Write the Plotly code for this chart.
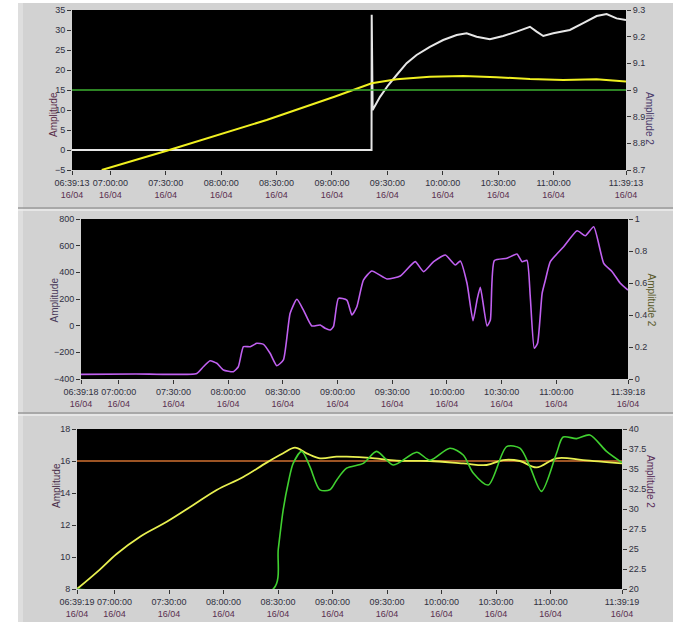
import pandas as pd
import plotly.graph_objects as go

# ---------------- data (minutes from panel start, value) ----------------
start1 = "2014-04-16 06:39:13"
start2 = "2014-04-16 06:39:18"
start3 = "2014-04-16 06:39:19"

# Panel 1
white_t = [0, 162.2, 162.3, 162.6, 162.8, 166.8, 171.3, 175.8, 181.2, 186.6, 193.8, 201.0, 208.3,
           213.7, 219.1, 226.3, 233.5, 240.8, 248.0, 251.6, 255.2, 260.6, 269.6, 276.8, 284.1,
           289.5, 294.9, 300]
white_v = [0, 0, 33.8, 21.5, 10.0, 13.3, 16.25, 18.75, 21.7, 23.75, 25.8, 27.5, 28.75,
           29.2, 28.3, 27.7, 28.5, 29.6, 30.8, 29.6, 28.5, 29.2, 30.0, 31.7, 33.5,
           34.0, 32.9, 32.5]
yel1_t = [16.1, 51.3, 105.4, 142.1, 162.3, 175.8, 193.8, 211.9, 229.9, 248.0, 266.0, 284.0, 300]
yel1_v = [-5, -0.2, 7.5, 13.3, 16.7, 17.7, 18.3, 18.5, 18.2, 17.75, 17.5, 17.7, 17.1]
lim1_t = [0, 300]
lim1_v = [9.0, 9.0]   # on Amplitude 2

# Panel 2
pur_t = [0, 30, 63.5, 67.1, 70.8, 74.5, 78.1, 83.6, 86.3, 89.1, 92.8, 96.4, 100.1, 103.7, 107.4,
         111.0, 114.7, 118.4, 122.0, 126.6, 131.2, 133.9, 136.7, 138.5, 141.2, 145.8, 148.6,
         151.3, 154.9, 159.5, 167.8, 175.1, 183.3, 187.9, 193.4, 199.8, 205.3, 208.0, 211.7,
         215.0, 217.2, 219.0, 222.7, 224.5, 226.7, 233.6, 239.1, 241.9, 244.6, 246.4, 248.6,
         250.4, 252.9, 254.7, 257.4, 264.7, 272.1, 276.6, 281.2, 286.7, 291.3, 295.8, 300]
pur_v = [-365, -362, -358, -308, -263, -282, -332, -345, -308, -158, -158, -132, -140, -207, -300,
         -257, 93, 198, 117, -2, 5, -20, -32, -5, 205, 192, 80,
         142, 342, 410, 350, 372, 480, 405, 480, 530, 455, 485, 318,
         37, 192, 288, -2, 42, 488, 505, 537, 480, 490, 217, -170,
         -132, 242, 342, 480, 592, 712, 675, 742, 467, 405, 318, 267]

# Panel 3
yel3_t = [0, 12.7, 21.8, 34.7, 49.4, 64.0, 76.9, 91.5, 104.4, 113.5, 120.0, 126.4, 133.7, 142.9,
          148.4, 161.3, 176.0, 194.3, 212.6, 225.5, 234.6, 243.8, 253.0, 264.0, 278.6, 300]
yel3_v = [8, 9.23, 10.19, 11.27, 12.2, 13.25, 14.19, 15.0, 15.9, 16.48, 16.83, 16.48, 16.17, 16.27,
          16.27, 16.2, 16.02, 16.0, 15.85, 15.75, 16.06, 16.0, 15.6, 16.17, 16.06, 15.85]
grn_t = [0, 108.0, 110.8, 113.5, 116.5, 119.0, 123.7, 128.2, 133.7, 139.2, 142.9, 148.4, 157.6,
         164.9, 174.1, 187.0, 194.3, 205.3, 212.6, 218.1, 226.4, 236.5, 243.8, 249.3, 255.7,
         264.0, 267.6, 275.0, 282.3, 291.5, 300]
grn_v = [20, 20, 25.0, 29.9, 33.5, 35.7, 37.2, 35.3, 32.4, 32.4, 33.6, 35.1, 35.7,
         37.2, 35.5, 37.1, 36.1, 37.6, 36.75, 34.5, 33.0, 37.8, 37.6, 35.3, 32.2,
         37.0, 39.0, 38.8, 39.25, 37.2, 35.8]   # on Amplitude 2
lim3_t = [0, 300]
lim3_v = [16, 16]

tick_clock = ["07:00:00", "07:30:00", "08:00:00", "08:30:00", "09:00:00",
              "09:30:00", "10:00:00", "10:30:00", "11:00:00"]
date_label = "16/04"


def tx(start, mins):
    return pd.Timestamp(start) + pd.to_timedelta(pd.Series(mins, dtype=float), unit="m")


def ticks(start):
    s = pd.Timestamp(start)
    e = s + pd.Timedelta(minutes=300)
    vals = [s] + [pd.Timestamp(s.strftime("%Y-%m-%d ") + c) for c in tick_clock] + [e]
    txt = [v.strftime("%H:%M:%S") + "<br><span style='color:#5a2f4f'>" + date_label + "</span>" for v in vals]
    return vals, txt, [s, e]


W, H = 673, 622
FONT = "Liberation Sans"
TICKC = "#2f3040"

fig = go.Figure()
fig.add_trace(go.Scatter(x=tx(start1, white_t), y=white_v, mode="lines",
                         line=dict(color="#e6e6e6", width=2), xaxis="x", yaxis="y"))
fig.add_trace(go.Scatter(x=tx(start1, yel1_t), y=yel1_v, mode="lines",
                         line=dict(color="#f0f020", width=2), xaxis="x", yaxis="y"))
fig.add_trace(go.Scatter(x=tx(start1, lim1_t), y=lim1_v, mode="lines",
                         line=dict(color="#3cb030", width=1.3), xaxis="x", yaxis="y2"))

fig.add_trace(go.Scatter(x=tx(start2, pur_t), y=pur_v, mode="lines", line_shape="spline",
                         line=dict(color="#c060f0", width=1.6, smoothing=0.5), xaxis="x2", yaxis="y3"))
fig.add_trace(go.Scatter(x=[None], y=[None], mode="lines", xaxis="x2", yaxis="y4"))

fig.add_trace(go.Scatter(x=tx(start3, lim3_t), y=lim3_v, mode="lines",
                         line=dict(color="#d07030", width=1.3), xaxis="x3", yaxis="y5"))
fig.add_trace(go.Scatter(x=tx(start3, grn_t), y=grn_v, mode="lines", line_shape="spline",
                         line=dict(color="#40d030", width=1.6, smoothing=0.8), xaxis="x3", yaxis="y6"))
fig.add_trace(go.Scatter(x=tx(start3, yel3_t), y=yel3_v, mode="lines", line_shape="spline",
                         line=dict(color="#e8f050", width=1.8), xaxis="x3", yaxis="y5"))


def px_x(a, b):
    return [a / W, b / W]


def px_y(top, bot):
    return [1 - bot / H, 1 - top / H]


ax_common = dict(showgrid=False, zeroline=False, ticks="outside", ticklen=4, tickwidth=1,
                 tickcolor="#333", tickfont=dict(family=FONT, size=9, color=TICKC),
                 showline=False, tickangle=0, automargin=False)

v1, t1, r1 = ticks(start1)
v2, t2, r2 = ticks(start2)
v3, t3, r3 = ticks(start3)

fig.update_layout(
    width=W, height=H, margin=dict(l=0, r=0, t=0, b=0, pad=0, autoexpand=False),
    paper_bgcolor="#d2d2d2", plot_bgcolor="black", showlegend=False,
    font=dict(family=FONT, size=9, color=TICKC),
    xaxis=dict(domain=px_x(72, 626), anchor="y", range=r1, tickvals=v1, ticktext=t1, **ax_common),
    yaxis=dict(domain=px_y(10, 170), anchor="x", range=[-5, 35], dtick=5, **ax_common),
    yaxis2=dict(overlaying="y", side="right", anchor="x", range=[8.7, 9.3], dtick=0.1, **ax_common),
    xaxis2=dict(domain=px_x(81, 628), anchor="y3", range=r2, tickvals=v2, ticktext=t2, **ax_common),
    yaxis3=dict(domain=px_y(219, 379), anchor="x2", range=[-400, 800], dtick=200, **ax_common),
    yaxis4=dict(overlaying="y3", side="right", anchor="x2", range=[0, 1], dtick=0.2, **ax_common),
    xaxis3=dict(domain=px_x(77, 622), anchor="y5", range=r3, tickvals=v3, ticktext=t3, **ax_common),
    yaxis5=dict(domain=px_y(429, 589), anchor="x3", range=[8, 18], dtick=2, **ax_common),
    yaxis6=dict(overlaying="y5", side="right", anchor="x3", range=[20, 40], dtick=2.5, **ax_common),
)

# white page strips and panel separators (outside the plot areas)
shapes = [
    dict(type="rect", xref="paper", yref="paper", x0=0, x1=18 / W, y0=0, y1=1,
         fillcolor="white", line=dict(width=0), layer="below"),
    dict(type="rect", xref="paper", yref="paper", x0=0, x1=1, y0=1 - 3 / H, y1=1,
         fillcolor="white", line=dict(width=0), layer="below"),
    dict(type="rect", xref="paper", yref="paper", x0=18 / W, x1=23 / W, y0=0, y1=1 - 3 / H,
         fillcolor="#dedede", line=dict(width=0), layer="below"),
]
for yy in (208, 413):
    shapes.append(dict(type="line", xref="paper", yref="paper", x0=18 / W, x1=1,
                       y0=1 - yy / H, y1=1 - yy / H, line=dict(color="#9a9a9a", width=1.5), layer="below"))
    shapes.append(dict(type="line", xref="paper", yref="paper", x0=18 / W, x1=1,
                       y0=1 - (yy + 2) / H, y1=1 - (yy + 2) / H, line=dict(color="#ececec", width=1.5), layer="below"))
fig.update_layout(shapes=shapes)

anns = []
for (x, y, c) in [(46, 90, "#5a2f4a"), (46, 300, "#4a3a5a"), (49, 510, "#4a2f4a")]:
    anns.append(dict(text="Amplitude", x=x / W, y=1 - y / H, xref="paper", yref="paper",
                     showarrow=False, textangle=-90, font=dict(family=FONT, size=10, color=c)))
for (x, y, c) in [(657, 90, "#4a3a6a"), (659, 300, "#5a5a2a"), (658, 510, "#5a2f5a")]:
    anns.append(dict(text="Amplitude 2", x=x / W, y=1 - y / H, xref="paper", yref="paper",
                     showarrow=False, textangle=90, font=dict(family=FONT, size=10, color=c)))
fig.update_layout(annotations=anns)

fig.write_html("out.html", config={"displayModeBar": False},
               post_script="document.body.style.margin='0';document.body.style.overflow='hidden';")
